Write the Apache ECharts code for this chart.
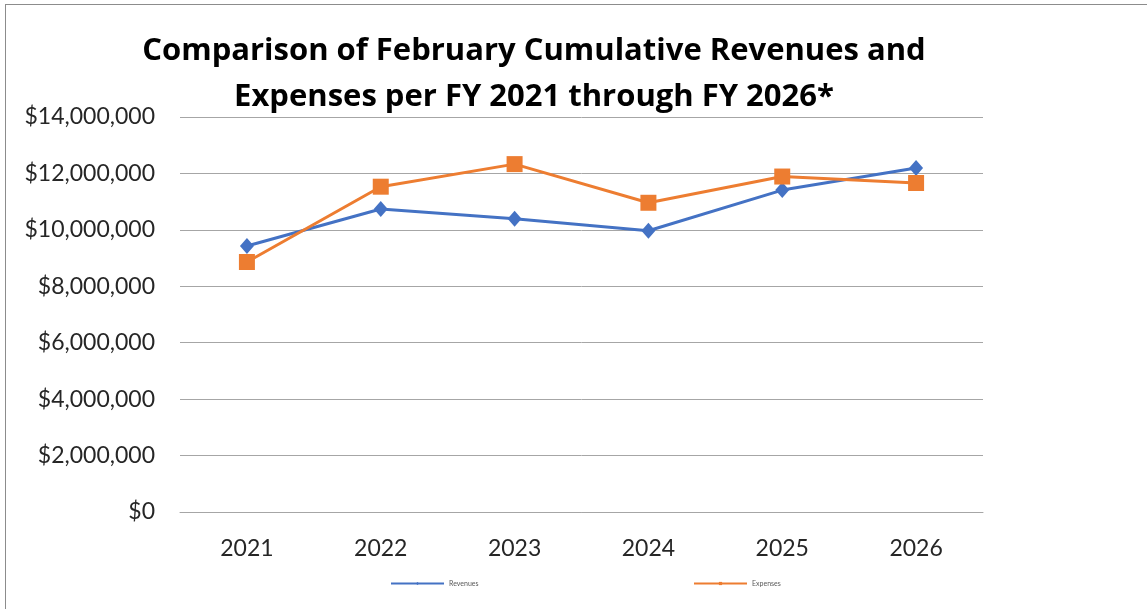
<!DOCTYPE html>
<html>
<head>
<meta charset="utf-8">
<script src="https://cdn.jsdelivr.net/npm/echarts@6/dist/echarts.min.js"></script>
<style>
  html, body { margin: 0; padding: 0; background: #fff; }
  #frame { position: absolute; left: 5px; top: 4px; width: 1150px; height: 610px; border: 1px solid #8c8c8c; box-sizing: border-box; }
  #chart { position: absolute; left: 0; top: 0; width: 1147px; height: 609px; }
</style>
</head>
<body>
<div id="frame"></div>
<div id="chart"></div>
<script>
// fiscal years on the x axis
const years = ['2021', '2022', '2023', '2024', '2025', '2026'];
// February cumulative amounts
const revenues = [9430000, 10740000, 10390000, 9970000, 11410000, 12190000];
const expenses = [8860000, 11530000, 12330000, 10960000, 11890000, 11660000];

const titleText = 'Comparison of February Cumulative Revenues and\nExpenses per FY 2021 through FY 2026*';

const chart = echarts.init(document.getElementById('chart'), null, {renderer: 'canvas'});

function money(v) {
    return '$' + v.toLocaleString('en-US');
}

const option = {
    animation: false,
    title: {
        text: titleText,
        left: 529,
        textAlign: 'center',
        top: 23,
        textStyle: {
            fontFamily: 'Open Sans',
            fontWeight: 'bold',
            fontSize: 31,
            lineHeight: 46,
            color: '#000'
        }
    },
    grid: {
        left: 180,
        right: 164,
        top: 117,
        bottom: 97
    },
    legend: [
        {
            data: ['Revenues'],
            left: 385,
            top: 575,
            itemWidth: 53,
            itemHeight: 4,
            itemGap: 4,
            textStyle: {fontFamily: 'Lato', fontSize: 7, color: '#595959'}
        },
        {
            data: ['Expenses'],
            left: 688,
            top: 575,
            itemWidth: 53,
            itemHeight: 4,
            itemGap: 4,
            textStyle: {fontFamily: 'Lato', fontSize: 7, color: '#595959'}
        }
    ],
    xAxis: {
        type: 'category',
        data: years,
        boundaryGap: true,
        axisLine: {show: true, lineStyle: {color: '#a6a6a6', width: 1}},
        axisTick: {show: false},
        axisLabel: {
            margin: 25,
            fontFamily: 'Lato',
            fontSize: 23,
            color: '#262626'
        }
    },
    yAxis: {
        type: 'value',
        min: 0,
        max: 14000000,
        interval: 2000000,
        axisLine: {show: false},
        axisTick: {show: false},
        splitLine: {lineStyle: {color: '#a6a6a6', width: 1}},
        axisLabel: {
            margin: 25,
            fontFamily: 'Lato',
            fontSize: 23,
            color: '#262626',
            formatter: money
        }
    },
    series: [
        {
            name: 'Revenues',
            type: 'line',
            data: revenues,
            symbol: 'diamond',
            symbolSize: [14, 16],
            lineStyle: {color: '#4472c4', width: 3},
            itemStyle: {color: '#4472c4'}
        },
        {
            name: 'Expenses',
            type: 'line',
            data: expenses,
            symbol: 'rect',
            symbolSize: 16,
            lineStyle: {color: '#ed7d31', width: 3},
            itemStyle: {color: '#ed7d31'}
        }
    ]
};

chart.setOption(option);
</script>
</body>
</html>
